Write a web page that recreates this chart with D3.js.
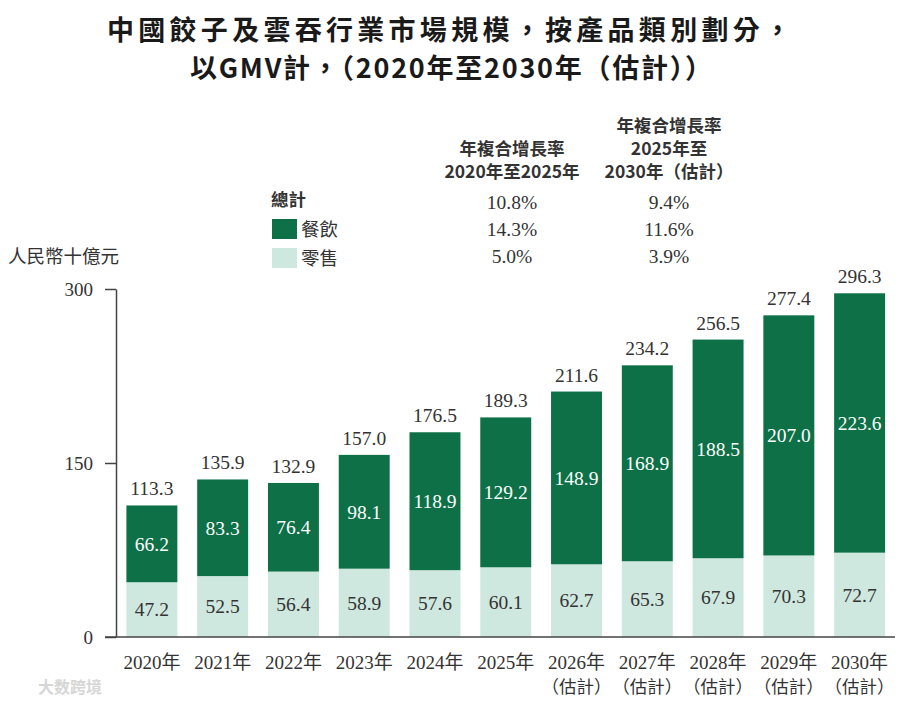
<!DOCTYPE html>
<html>
<head>
<meta charset="utf-8">
<script src="https://cdn.jsdelivr.net/npm/d3@7"></script>
<style>
  body { margin: 0; background: #fff; }
  svg text { font-family: "Liberation Serif", "Noto Sans CJK TC", serif; fill: #333; }
  .cjk { font-family: "Noto Sans CJK TC", "Liberation Serif", sans-serif; }
</style>
</head>
<body>
<svg id="chart" width="900" height="704" viewBox="0 0 900 704"></svg>
<script>
// ----- data -----
const years = ["2020年", "2021年", "2022年", "2023年", "2024年", "2025年",
               "2026年", "2027年", "2028年", "2029年", "2030年"];
const estimated = [false, false, false, false, false, false, true, true, true, true, true];
const retail = [47.2, 52.5, 56.4, 58.9, 57.6, 60.1, 62.7, 65.3, 67.9, 70.3, 72.7];
const catering = [66.2, 83.3, 76.4, 98.1, 118.9, 129.2, 148.9, 168.9, 188.5, 207.0, 223.6];
const totals = [113.3, 135.9, 132.9, 157.0, 176.5, 189.3, 211.6, 234.2, 256.5, 277.4, 296.3];
const yTicks = [0, 150, 300];

const seriesNames = ["餐飲", "零售"];
const cagrHeads = [["年複合增長率", "2020年至2025年"], ["年複合增長率", "2025年至", "2030年（估計）"]];
const cagrTotal = ["10.8%", "9.4%"];
const cagrCatering = ["14.3%", "11.6%"];
const cagrRetail = ["5.0%", "3.9%"];

const dark = "#0d7047", light = "#cfe8df";

let svg = d3.select("#chart");

/* ----- title ----- */
svg.append("text").attr("class", "cjk")
    .attr("x", 449).attr("y", 40)
    .attr("text-anchor", "middle")
    .attr("font-size", 27).attr("font-weight", "bold")
    .attr("textLength", 684).attr("lengthAdjust", "spacing")
    .style("fill", "#1a1a1a")
    .text("中國餃子及雲吞行業市場規模，按產品類別劃分，");
svg.append("text").attr("class", "cjk")
    .attr("x", 451).attr("y", 78)
    .attr("text-anchor", "middle")
    .attr("font-size", 27).attr("font-weight", "bold")
    .attr("textLength", 522).attr("lengthAdjust", "spacing")
    .style("fill", "#1a1a1a")
    .text("以GMV計，（2020年至2030年（估計））");

/* ----- scales ----- */
let x = d3.scaleBand()
    .domain(years)
    .range([116.5, 895])
    .paddingInner(0.28)
    .paddingOuter(0.14);

let y = d3.scaleLinear()
    .domain([0, 300])
    .range([637, 289]);

/* ----- axes ----- */
let yAxis = svg.append("g")
    .attr("transform", "translate(116,0)")
    .call(d3.axisLeft(y).tickValues(yTicks).tickSize(11).tickPadding(12).tickSizeOuter(0));
yAxis.select(".domain").attr("stroke", "#444").attr("stroke-width", 1.5);
yAxis.selectAll(".tick line").attr("stroke", "#444").attr("stroke-width", 1.5);
yAxis.selectAll(".tick text")
    .attr("font-size", 19)
    .style("font-family", "Liberation Serif")
    .style("fill", "#333")
    .attr("dy", "0.35em");

svg.append("text").attr("class", "cjk")
    .attr("x", 8).attr("y", 263)
    .attr("font-size", 18.5)
    .text("人民幣十億元");

/* ----- bars ----- */
let rows = years.map((yr, i) => ({year: yr, retail: retail[i], catering: catering[i], total: totals[i], est: estimated[i]}));

let bars = svg.append("g")
    .selectAll("g")
    .data(rows)
    .enter()
    .append("g");

bars.append("rect")
    .attr("x", d => x(d.year))
    .attr("width", x.bandwidth())
    .attr("y", d => y(d.retail))
    .attr("height", d => y(0) - y(d.retail))
    .attr("fill", light);

bars.append("rect")
    .attr("x", d => x(d.year))
    .attr("width", x.bandwidth())
    .attr("y", d => y(d.retail + d.catering))
    .attr("height", d => y(d.retail) - y(d.retail + d.catering))
    .attr("fill", dark);

let cx = d => x(d.year) + x.bandwidth() / 2;

bars.append("text")
    .attr("x", cx)
    .attr("y", d => (y(0) + y(d.retail)) / 2)
    .attr("dy", "0.35em")
    .attr("text-anchor", "middle")
    .attr("font-size", 19.5)
    .text(d => d.retail.toFixed(1));

bars.append("text")
    .attr("x", cx)
    .attr("y", d => (y(d.retail) + y(d.retail + d.catering)) / 2)
    .attr("dy", "0.35em")
    .attr("text-anchor", "middle")
    .attr("font-size", 19.5)
    .style("fill", "#fff")
    .text(d => d.catering.toFixed(1));

bars.append("text")
    .attr("x", cx)
    .attr("y", d => y(d.retail + d.catering) - 10)
    .attr("text-anchor", "middle")
    .attr("font-size", 19.5)
    .text(d => d.total.toFixed(1));

// x axis line
svg.append("line")
    .attr("x1", 105).attr("x2", 895)
    .attr("y1", y(0)).attr("y2", y(0))
    .attr("stroke", "#444").attr("stroke-width", 1.5);

bars.append("text")
    .attr("x", cx)
    .attr("y", 669)
    .attr("text-anchor", "middle")
    .attr("font-size", 19)
    .text(d => d.year);

bars.filter(d => d.est).append("text")
    .attr("class", "cjk")
    .attr("x", cx)
    .attr("y", 693)
    .attr("text-anchor", "middle")
    .attr("font-size", 17.5)
    .text("（估計）");

/* ----- legend / CAGR table ----- */
let colX = [512, 669];
let legend = svg.append("g");

cagrHeads.forEach((lines, c) => {
    let top = 178 - (lines.length - 1) * 23;
    lines.forEach((t, k) => {
        legend.append("text").attr("class", "cjk")
            .attr("x", colX[c]).attr("y", top + k * 23)
            .attr("text-anchor", "middle")
            .attr("font-size", 17.5).attr("font-weight", "bold")
            .text(t);
    });
});

legend.append("text").attr("class", "cjk")
    .attr("x", 271).attr("y", 206)
    .attr("font-size", 17.5).attr("font-weight", "bold")
    .text("總計");

let swatchColors = [dark, light];
seriesNames.forEach((name, k) => {
    let yy = 219 + k * 29;
    legend.append("rect")
        .attr("x", 272).attr("y", yy)
        .attr("width", 25).attr("height", 20)
        .attr("fill", swatchColors[k]);
    legend.append("text").attr("class", "cjk")
        .attr("x", 301).attr("y", yy + 17)
        .attr("font-size", 18.5)
        .text(name);
});

[cagrTotal, cagrCatering, cagrRetail].forEach((vals, r) => {
    vals.forEach((v, c) => {
        legend.append("text")
            .attr("x", colX[c]).attr("y", 209 + r * 27)
            .attr("text-anchor", "middle")
            .attr("font-size", 19.5)
            .text(v);
    });
});

/* ----- watermark ----- */
svg.append("text").attr("class", "cjk")
    .attr("x", 38).attr("y", 693)
    .attr("font-size", 16).attr("font-weight", "bold")
    .style("fill", "#d6d6d6")
    .text("大数跨境");
</script>
</body>
</html>
